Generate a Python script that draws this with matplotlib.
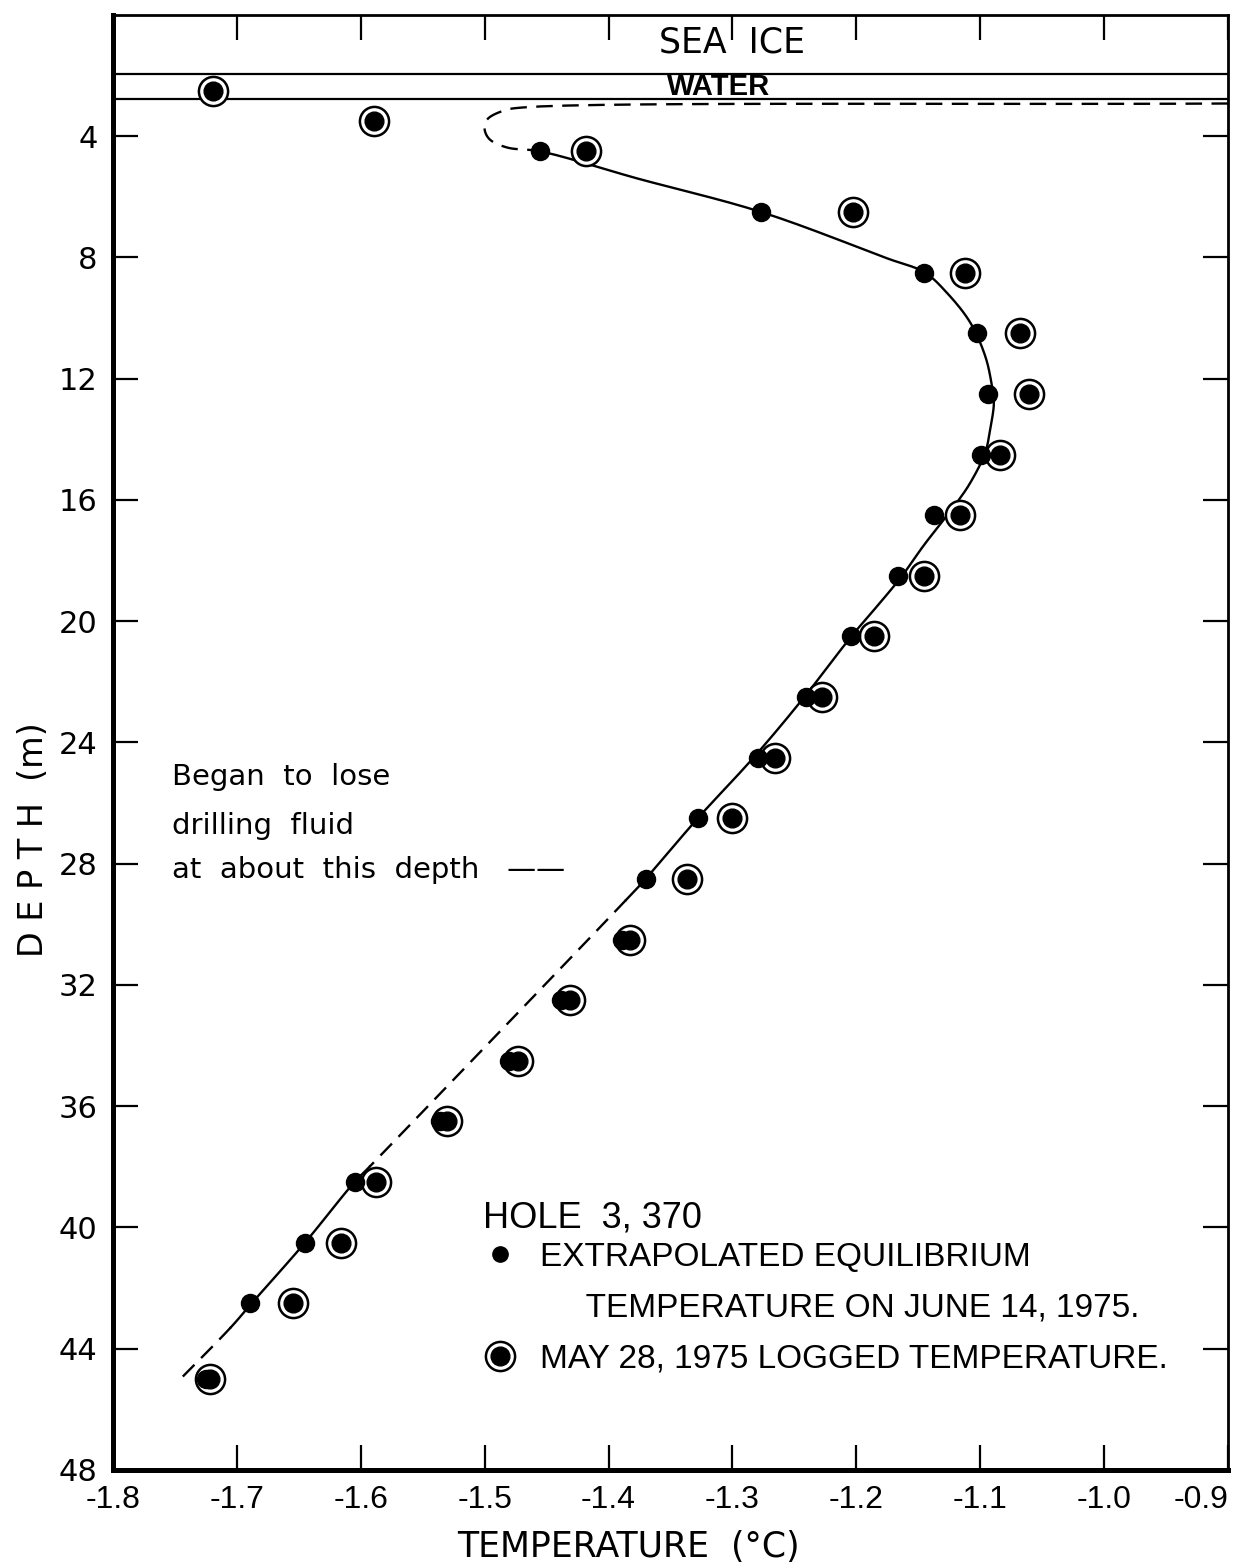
import matplotlib
matplotlib.use("Agg")
import numpy as np
import matplotlib.pyplot as plt
from matplotlib.lines import Line2D
from matplotlib.legend_handler import HandlerTuple

# extrapolated equilibrium temperature, June 14 1975 (filled dots)
depth_eq = [4.5, 6.5, 8.5, 10.5, 12.5, 14.5, 16.5, 18.5, 20.5, 22.5, 24.5,
            26.5, 28.5, 30.5, 32.5, 34.5, 36.5, 38.5, 40.5, 42.5, 45.0]
temp_eq = [-1.455, -1.277, -1.145, -1.103, -1.094, -1.099, -1.137, -1.166,
           -1.204, -1.241, -1.279, -1.328, -1.370, -1.389, -1.438, -1.480,
           -1.536, -1.605, -1.645, -1.689, -1.725]

# logged temperature, May 28 1975 (circled dots)
depth_log = [2.5, 3.5, 4.5, 6.5, 8.5, 10.5, 12.5, 14.5, 16.5, 18.5, 20.5,
             22.5, 24.5, 26.5, 28.5, 30.5, 32.5, 34.5, 36.5, 38.5, 40.5,
             42.5, 45.0]
temp_log = [-1.719, -1.589, -1.418, -1.203, -1.112, -1.068, -1.061, -1.084,
            -1.116, -1.145, -1.186, -1.228, -1.266, -1.300, -1.337, -1.383,
            -1.431, -1.473, -1.530, -1.588, -1.616, -1.655, -1.722]

# hand drawn profile, nodes
curve_t = [-0.900, -1.469, -1.485, -1.498, -1.500, -1.496, -1.482, -1.455,
           -1.377, -1.276, -1.175, -1.145, -1.127, -1.108, -1.096, -1.091,
           -1.089, -1.092, -1.096, -1.108, -1.119, -1.146, -1.163, -1.179,
           -1.204, -1.242, -1.283, -1.328, -1.370, -1.386, -1.593, -1.605,
           -1.645, -1.688, -1.705, -1.748]
curve_d = [2.92, 3.05, 3.16, 3.45, 3.77, 4.10, 4.37, 4.50,
           5.39, 6.51, 8.03, 8.49, 9.16, 10.15, 11.25, 12.13,
           12.79, 13.67, 14.44, 15.43, 16.09, 17.52, 18.50, 19.30,
           20.50, 22.50, 24.50, 26.50, 28.50, 29.20, 38.00, 38.50,
           40.50, 42.50, 43.30, 45.10]
# (start index, end index, dashed?)
curve_parts = [(0, 7, True), (7, 29, False), (29, 30, True),
               (30, 34, False), (34, 35, True)]

ice_bottom = 1.95
water_bottom = 2.78

xticks = [-1.8, -1.7, -1.6, -1.5, -1.4, -1.3, -1.2, -1.1, -1.0, -0.9]
xtick_labels = ["-1.8", "-1.7", "-1.6", "-1.5", "-1.4", "-1.3", "-1.2",
                "-1.1", "-1.0", "-0.9"]
yticks = [4, 8, 12, 16, 20, 24, 28, 32, 36, 40, 44, 48]

note_lines = ["Began  to  lose", "drilling  fluid", "at  about  this  depth   ——"]
note_depths = [25.15, 26.75, 28.2]

narrow = ["Liberation Sans", "DejaVu Sans"]
plain = ["DejaVu Sans"]


def smooth(ts, ds, n=16):
    """centripetal catmull-rom through the nodes, done in pixel-like units"""
    p = np.column_stack([np.array(ts) * 1239.0, np.array(ds) * 30.3])
    p = np.vstack([2 * p[0] - p[1], p, 2 * p[-1] - p[-2]])
    out = []
    for i in range(1, len(p) - 2):
        p0, p1, p2, p3 = p[i - 1], p[i], p[i + 1], p[i + 2]
        t0 = 0.0
        t1 = t0 + np.linalg.norm(p1 - p0) ** 0.5
        t2 = t1 + np.linalg.norm(p2 - p1) ** 0.5
        t3 = t2 + np.linalg.norm(p3 - p2) ** 0.5
        t = np.linspace(t1, t2, n)[:, None]
        a1 = (t1 - t) / (t1 - t0) * p0 + (t - t0) / (t1 - t0) * p1
        a2 = (t2 - t) / (t2 - t1) * p1 + (t - t1) / (t2 - t1) * p2
        a3 = (t3 - t) / (t3 - t2) * p2 + (t - t2) / (t3 - t2) * p3
        b1 = (t2 - t) / (t2 - t0) * a1 + (t - t0) / (t2 - t0) * a2
        b2 = (t3 - t) / (t3 - t1) * a2 + (t - t1) / (t3 - t1) * a3
        c = (t2 - t) / (t2 - t1) * b1 + (t - t1) / (t2 - t1) * b2
        out.append(c)
    return out  # one array per node interval


fig = plt.figure(figsize=(12.48, 15.62), dpi=100)
ax = fig.add_axes([0.0905, 0.0589, 0.8935, 0.9315])
ax.set_xlim(-1.8, -0.9)
ax.set_ylim(48, 0)

for s in ["left", "bottom"]:
    ax.spines[s].set_linewidth(3.6)
for s in ["top", "right"]:
    ax.spines[s].set_linewidth(2.0)

ax.set_xticks(xticks)
ax.set_xticklabels(xtick_labels, family=narrow, fontsize=23)
ax.get_xticklabels()[-1].set_horizontalalignment("right")
ax.set_yticks(yticks)
ax.set_yticklabels([str(v) for v in yticks], family=plain, fontsize=22)
ax.tick_params(direction="in", length=18, width=1.6, top=True, right=True)
ax.tick_params(axis="x", pad=11)
ax.tick_params(axis="y", pad=11)

# sea ice / water layers
ax.axhline(ice_bottom, color="black", lw=1.6)
ax.axhline(water_bottom, color="black", lw=1.6)
ax.text(-1.30, 0.9, "SEA  ICE", ha="center", va="center", fontsize=25,
        family=plain)
ax.text(-1.311, 2.38, "WATER", ha="center", va="center", fontsize=21,
        fontweight="bold", family=narrow)

# profile line
pieces = smooth(curve_t, curve_d)
for i0, i1, dashed in curve_parts:
    xy = np.vstack(pieces[i0:i1])
    ax.plot(xy[:, 0] / 1239.0, xy[:, 1] / 30.3, color="black", lw=1.7,
            ls=(0, (7, 4)) if dashed else "-", zorder=2)

# markers
ax.plot(temp_log, depth_log, ls="none", marker="o", ms=21, mfc="white",
        mec="black", mew=1.8, zorder=3)
ax.plot(temp_log, depth_log, ls="none", marker="o", ms=13.5, color="black",
        zorder=4)
ax.plot(temp_eq, depth_eq, ls="none", marker="o", ms=13, color="black",
        zorder=5)

for line, d in zip(note_lines, note_depths):
    ax.text(-1.752, d, line, ha="left", va="center", fontsize=21, family=plain)

# legend
ax.text(-1.5013, 39.68, "HOLE  3, 370", ha="left", va="center", fontsize=26,
        family=narrow)
dot = Line2D([], [], ls="none", marker="o", ms=11, color="black")
ring = Line2D([], [], ls="none", marker="o", ms=21, mfc="white",
              mec="black", mew=1.8)
ring_dot = Line2D([], [], ls="none", marker="o", ms=13.5, color="black")
blank = Line2D([], [], ls="none")
ax.legend([dot, blank, (ring, ring_dot)],
          ["EXTRAPOLATED EQUILIBRIUM",
           "     TEMPERATURE ON JUNE 14, 1975.",
           "MAY 28, 1975 LOGGED TEMPERATURE."],
          handler_map={tuple: HandlerTuple(ndivide=1, pad=0)},
          loc="upper left", bbox_to_anchor=(0.332, 0.1567),
          frameon=False, borderpad=0, borderaxespad=0,
          handlelength=1.0, handletextpad=0.7, labelspacing=0.6,
          prop={"family": narrow, "size": 24})

ax.set_xlabel("TEMPERATURE  (°C)", family=plain, fontsize=25)
ax.xaxis.set_label_coords(0.462, -0.041)
ax.set_ylabel("D E P T H  (m)", family=plain, fontsize=24)
ax.yaxis.set_label_coords(-0.0565, 0.433)

fig.savefig("out.png", dpi=100)
